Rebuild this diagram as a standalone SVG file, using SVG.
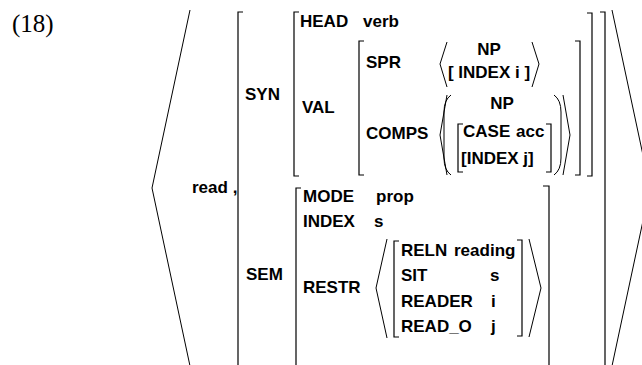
<svg xmlns="http://www.w3.org/2000/svg" width="642" height="365" viewBox="0 0 642 365">
  <style>
    .t { font-family: "Liberation Sans", Arial, sans-serif; font-weight: bold; font-size: 17px; fill: #000; }
    .m { text-anchor: middle; }
    .num { font-family: "Liberation Serif", "Times New Roman", serif; font-size: 25px; fill: #000; }
    .br { fill: none; stroke: #000; stroke-width: 1.2; }
    .ang { fill: none; stroke: #000; stroke-width: 1; }
  </style>
  <rect width="642" height="365" fill="#fff"/>

  <text class="num" x="12" y="32">(18)</text>

  <!-- outer list angle brackets -->
  <g id="outer-list">
    <polyline class="ang" points="190,10 152,188 190,366"/>
    <polyline class="ang" points="612,10 650,188 612,366"/>
    <text class="t" x="192" y="193">read ,</text>
  </g>

  <!-- top-level feature structure -->
  <g id="avm-top">
    <path class="br" d="M243,12 H238 V366"/>
    <path class="br" d="M600,12 H605 V366"/>
    <text class="t" x="245" y="100">SYN</text>
    <text class="t" x="246" y="280">SEM</text>
  </g>

  <!-- SYN value -->
  <g id="syn">
    <path class="br" d="M299,12 H294 V176 H299"/>
    <path class="br" d="M587,13 H592 V176 H587"/>
    <text class="t" x="300" y="27">HEAD</text>
    <text class="t" x="363" y="27">verb</text>
    <text class="t" x="302" y="113">VAL</text>
  </g>

  <!-- VAL value -->
  <g id="val">
    <path class="br" d="M364,41 H359 V175 H364"/>
    <path class="br" d="M575,41 H580 V175 H575"/>
    <text class="t" x="366" y="68">SPR</text>
    <text class="t" x="366" y="139">COMPS</text>
  </g>

  <!-- SPR list -->
  <g id="spr">
    <polyline class="ang" points="447,42 440,64 447,87"/>
    <polyline class="ang" points="532,42 539,64 532,87"/>
    <text class="t m" x="489" y="55">NP</text>
    <text class="t m" x="489" y="78">[ INDEX i ]</text>
  </g>

  <!-- COMPS list -->
  <g id="comps">
    <polyline class="ang" points="447,95 440,135 447,175"/>
    <polyline class="ang" points="563,95 570,135 563,175"/>
    <path class="ang" d="M451,95 Q444,100 444,112 V158 Q444,170 451,175"/>
    <path class="ang" d="M554,95 Q561,100 561,112 V158 Q561,170 554,175"/>
    <text class="t m" x="502" y="109">NP</text>
    <path class="br" d="M463,124 H458 V172 H463"/>
    <path class="br" d="M546,124 H551 V172 H546"/>
    <text class="t" x="463" y="137">CASE</text>
    <text class="t" x="516" y="137">acc</text>
    <text class="t" x="461" y="164">[INDEX j]</text>
  </g>

  <!-- SEM value -->
  <g id="sem">
    <path class="br" d="M301,188 H296 V366"/>
    <path class="br" d="M543,186 H549 V366"/>
    <text class="t" x="303" y="202">MODE</text>
    <text class="t" x="376" y="202">prop</text>
    <text class="t" x="303" y="227">INDEX</text>
    <text class="t" x="374" y="227">s</text>
    <text class="t" x="303" y="293">RESTR</text>
  </g>

  <!-- RESTR list -->
  <g id="restr">
    <polyline class="ang" points="387,239 376,288 387,338"/>
    <polyline class="ang" points="529,239 541,288 529,337"/>
    <path class="br" d="M399,241 H394 V337 H399"/>
    <path class="br" d="M517,240 H522 V336 H517"/>
    <text class="t" x="401" y="256">RELN</text>
    <text class="t" x="454" y="256">reading</text>
    <text class="t" x="401" y="281">SIT</text>
    <text class="t" x="490" y="281">s</text>
    <text class="t" x="401" y="307">READER</text>
    <text class="t" x="491" y="307">i</text>
    <text class="t" x="401" y="332">READ_O</text>
    <text class="t" x="491" y="332">j</text>
  </g>
</svg>
